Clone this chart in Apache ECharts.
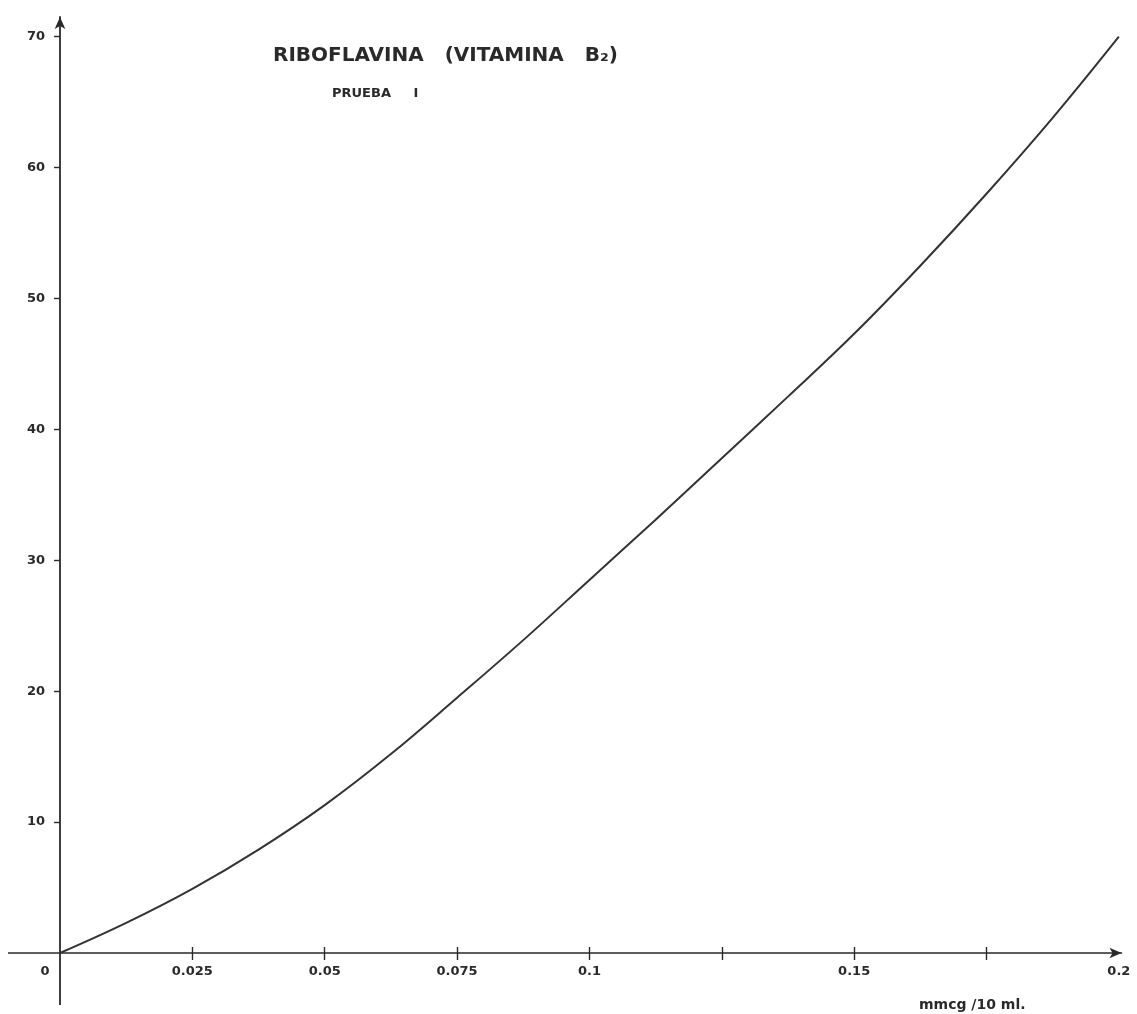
<!DOCTYPE html>
<html>
<head>
<meta charset="utf-8">
<title>Riboflavina (Vitamina B2) - Prueba I</title>
<script src="https://cdn.jsdelivr.net/npm/echarts@6/dist/echarts.min.js"></script>
<style>
  html, body { margin: 0; padding: 0; background: #ffffff; }
  #chart { width: 1137px; height: 1014px; }
</style>
</head>
<body>
<div id="chart"></div>
<script>
// Concentration of riboflavin (mmcg / 10 ml) and the measured response
const concentration = [0, 0.0125, 0.025, 0.0375, 0.05, 0.0625, 0.075, 0.0875, 0.1,
                       0.1125, 0.125, 0.1375, 0.15, 0.1625, 0.175, 0.1875, 0.2];
const response = [0, 2.3, 4.9, 7.9, 11.3, 15.2, 19.5, 23.9, 28.5,
                  33.1, 37.8, 42.5, 47.3, 52.5, 58.0, 63.8, 70];

// Tick positions and labels on both axes
const xTicks = [0.025, 0.05, 0.075, 0.1, 0.125, 0.15, 0.175];
const xLabels = [0, 0.025, 0.05, 0.075, 0.1, 0.15, 0.2];
const yTicks = [10, 20, 30, 40, 50, 60, 70];

const titleText = 'RIBOFLAVINA   (VITAMINA   B\u2082)';
const subtitleText = 'PRUEBA     I';
const unitText = 'mmcg /10 ml.';

const ink = '#2a2a2a';
const font = 'DejaVu Sans';

const chart = echarts.init(document.getElementById('chart'), null, { renderer: 'canvas' });

chart.setOption({
  backgroundColor: '#ffffff',
  animation: false,
  title: [
    { text: titleText, left: 268, top: 41,
      textStyle: { fontFamily: font, fontWeight: 'bold', fontSize: 20, color: ink } },
    { text: subtitleText, left: 327, top: 82,
      textStyle: { fontFamily: font, fontWeight: 'bold', fontSize: 13, color: ink } },
    { text: unitText, left: 914, top: 993,
      textStyle: { fontFamily: font, fontWeight: 'bold', fontSize: 14, color: ink } }
  ],
  grid: { left: 60, right: 15.5, top: 17, bottom: 61, containLabel: false, outerBoundsMode: 'none' },
  xAxis: [{
    type: 'value',
    position: 'bottom',
    min: 0,
    max: 0.2005,
    splitLine: { show: false },
    axisLine: {
      lineStyle: { color: ink, width: 1.6 },
      symbol: ['none', 'arrow'],
      symbolSize: [8, 12]
    },
    axisTick: {
      show: true,
      length: 7,
      customValues: xTicks,
      lineStyle: { color: ink, width: 1.4 }
    },
    axisLabel: {
      show: true,
      customValues: xLabels,
      margin: 12,
      fontFamily: font,
      fontWeight: 'bold',
      fontSize: 13,
      color: ink,
      formatter: function (v) {
        if (v === 0) return '{z|0}';
        return String(v);
      },
      rich: {
        z: { fontFamily: font, fontWeight: 'bold', fontSize: 13, color: ink, padding: [0, 30, 0, 0] }
      }
    }
  }, {
    // same scale, used only for the upper half of the crossing tick marks
    type: 'value',
    position: 'bottom',
    offset: 0,
    min: 0,
    max: 0.2005,
    splitLine: { show: false },
    axisLine: { show: false },
    axisLabel: { show: false },
    axisTick: {
      show: true,
      inside: true,
      length: 6,
      customValues: xTicks,
      lineStyle: { color: ink, width: 1.4 }
    }
  }],
  yAxis: {
    type: 'value',
    min: 0,
    max: 71.5,
    splitLine: { show: false },
    axisLine: {
      lineStyle: { color: ink, width: 1.8 },
      symbol: ['none', 'arrow'],
      symbolSize: [8, 12]
    },
    axisTick: {
      show: true,
      length: 6,
      customValues: yTicks,
      lineStyle: { color: ink, width: 1.4 }
    },
    axisLabel: {
      show: true,
      customValues: yTicks,
      margin: 15,
      fontFamily: font,
      fontWeight: 'bold',
      fontSize: 13,
      color: ink
    }
  },
  series: [{
    type: 'line',
    xAxisIndex: 0,
    data: concentration.map((x, i) => [x, response[i]]),
    smooth: 0.4,
    showSymbol: false,
    lineStyle: { color: '#333333', width: 2 }
  }]
});

// Extend both axis lines a little past the origin (left and downward)
const origin = chart.convertToPixel({ xAxisIndex: 0, yAxisIndex: 0 }, [0, 0]);
chart.setOption({
  graphic: [
    { type: 'line', shape: { x1: 8, y1: origin[1], x2: origin[0], y2: origin[1] },
      style: { stroke: ink, lineWidth: 1.6 } },
    { type: 'line', shape: { x1: origin[0], y1: origin[1], x2: origin[0], y2: 1005 },
      style: { stroke: ink, lineWidth: 1.8 } }
  ]
});
</script>
</body>
</html>
